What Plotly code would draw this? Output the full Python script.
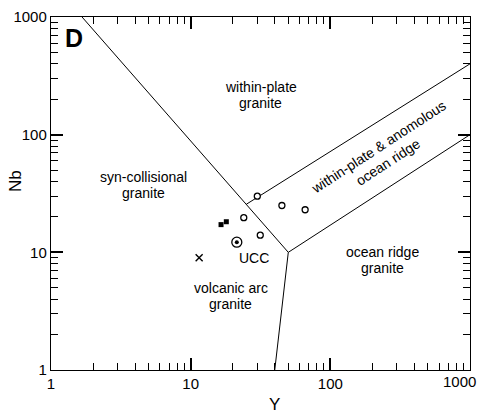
import math
import plotly.graph_objects as go

# Boundary lines (Pearce et al. 1984 Nb-Y diagram)
b1_x = [1, 50]; b1_y = [2000, 10]          # syn-COLG+VAG / WPG
b2_x = [50, 40]; b2_y = [10, 1]            # VAG / ORG
b3_x = [50, 1000]; b3_y = [10, 100]        # VAG / ORG upper
b4_x = [25, 1000]; b4_y = [25.6, 400]      # WPG / ORG

# Samples
circ_x = [30, 45, 66, 24, 31.5]
circ_y = [30, 25, 23, 19.7, 14]
sq_x = [16.5, 18.0]
sq_y = [17.2, 18.2]
cross_x = [11.5]
cross_y = [9.0]
ucc_x = [21.4]
ucc_y = [12.2]

# Axis ticks
major_ticks = [1, 10, 100, 1000]
x_tick_text = ["1", "10", "100", ""]      # "1000" drawn separately (kept inside page)
y_tick_text = ["1", "10", "100", "1000"]
minor_ticks = [m * d for d in [1, 10, 100] for m in range(2, 10)]

FONT = "Arial, Liberation Sans, sans-serif"

fig = go.Figure()
for bx, by in [(b1_x, b1_y), (b2_x, b2_y), (b3_x, b3_y), (b4_x, b4_y)]:
    fig.add_trace(go.Scatter(x=bx, y=by, mode="lines",
                             line=dict(color="black", width=1), hoverinfo="skip"))

fig.add_trace(go.Scatter(x=circ_x, y=circ_y, mode="markers",
                         marker=dict(symbol="circle", size=6, color="white",
                                     line=dict(color="black", width=1.3))))
fig.add_trace(go.Scatter(x=sq_x, y=sq_y, mode="markers",
                         marker=dict(symbol="square", size=5, color="black",
                                     line=dict(width=0))))
fig.add_trace(go.Scatter(x=cross_x, y=cross_y, mode="markers",
                         marker=dict(symbol="x-thin", size=7,
                                     line=dict(color="black", width=1.4))))
fig.add_trace(go.Scatter(x=ucc_x, y=ucc_y, mode="markers",
                         marker=dict(symbol="circle", size=10, color="white",
                                     line=dict(color="black", width=1.3))))
fig.add_trace(go.Scatter(x=ucc_x, y=ucc_y, mode="markers",
                         marker=dict(symbol="circle", size=4, color="black",
                                     line=dict(width=0))))

axis_common = dict(
    type="log", showgrid=False, zeroline=False, automargin=False,
    showline=True, linecolor="black", linewidth=1.4, mirror="ticks",
    ticks="inside", ticklen=12, tickwidth=2, tickcolor="black",
    tickmode="array", tickvals=major_ticks,
    tickfont=dict(family=FONT, size=15, color="black"),
    minor=dict(ticks="inside", ticklen=7, tickwidth=1, tickcolor="black",
               tickmode="array", tickvals=minor_ticks, showgrid=False),
)

fig.update_layout(
    width=478, height=414,
    margin=dict(l=51, r=8, t=17, b=44, autoexpand=False),
    paper_bgcolor="white", plot_bgcolor="white",
    showlegend=False,
    font=dict(family=FONT, color="black"),
    xaxis=dict(axis_common, range=[0, 3], ticktext=x_tick_text),
    yaxis=dict(axis_common, range=[0, 3], ticktext=y_tick_text),
)

def txt(text, x, y, size=14, xshift=0, yshift=0, angle=0, bold=False):
    fig.add_annotation(text=f"<b>{text}</b>" if bold else text,
                       x=math.log10(x), y=math.log10(y), xref="x", yref="y",
                       showarrow=False, textangle=angle,
                       xshift=xshift, yshift=yshift,
                       font=dict(family=FONT, size=size, color="black"),
                       xanchor="center", yanchor="middle")

# Panel letter
txt("D", 1.47, 668, size=25, bold=True)

# Two-line field labels (line pairs, ~16 px apart)
labels = [
    ("within-plate", "granite", 31.7, 219),
    ("syn-collisional", "granite", 4.58, 37.1),
    ("volcanic arc", "granite", 19.4, 4.27),
    ("ocean ridge", "granite", 238, 8.69),
]
for l1, l2, lx, ly in labels:
    txt(l1, lx, ly, yshift=8)
    txt(l2, lx, ly, yshift=-8)

txt("UCC", 28.3, 9.0)

# Rotated label along the within-plate & anomalous ridge band
ang = 33
nx, ny = math.sin(math.radians(ang)) * 8.5, math.cos(math.radians(ang)) * 8.5
txt("within-plate & anomolous", 239, 67.9, angle=-ang, xshift=-nx, yshift=ny)
txt("ocean ridge", 239, 67.9, angle=-ang, xshift=nx, yshift=-ny)

# Axis titles
fig.add_annotation(text="Nb", xref="paper", yref="paper",
                   x=(15 - 51) / 419, y=(370 - 181) / 353, textangle=-90,
                   showarrow=False, font=dict(family=FONT, size=17, color="black"),
                   xanchor="center", yanchor="middle")
fig.add_annotation(text="Y", xref="paper", yref="paper",
                   x=(274 - 51) / 419, y=(370 - 404) / 353,
                   showarrow=False, font=dict(family=FONT, size=17, color="black"),
                   xanchor="center", yanchor="middle")
# Last x tick label, right-aligned to the page edge as in the original
fig.add_annotation(text="1000", xref="paper", yref="paper",
                   x=(478 - 51) / 419, y=(370 - 381) / 353,
                   showarrow=False, font=dict(family=FONT, size=15, color="black"),
                   xanchor="right", yanchor="middle")

fig.write_html("out.html", post_script="document.body.style.margin='0';",
               config={"displayModeBar": False})
